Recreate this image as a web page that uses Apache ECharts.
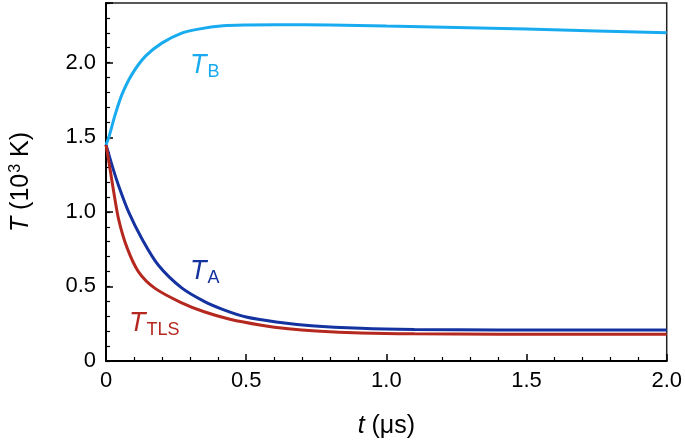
<!DOCTYPE html>
<html>
<head>
<meta charset="utf-8">
<script src="https://cdn.jsdelivr.net/npm/echarts@6/dist/echarts.min.js"></script>
<style>
  html, body { margin: 0; padding: 0; background: #fff; }
  #chart { width: 685px; height: 444px; }
</style>
</head>
<body>
<div id="chart"></div>
<script>
  // time (us) and temperature (10^3 K)
  const timeB = [0, 0.01, 0.033, 0.057, 0.092, 0.14, 0.199, 0.27, 0.33, 0.418, 0.5, 0.607, 0.8, 1.0, 1.25, 1.5, 1.75, 2.0]
  const tempB = [1.45, 1.50, 1.653, 1.787, 1.92, 2.042, 2.131, 2.198, 2.225, 2.247, 2.253, 2.255, 2.252, 2.245, 2.236, 2.225, 2.213, 2.20]

  const timeA = [0, 0.021, 0.045, 0.081, 0.128, 0.187, 0.27, 0.35, 0.418, 0.5, 0.607, 0.732, 0.909, 1.1, 1.4, 1.7, 2.0]
  const tempA = [1.45, 1.315, 1.175, 0.998, 0.82, 0.642, 0.49, 0.40, 0.345, 0.295, 0.262, 0.237, 0.219, 0.211, 0.208, 0.207, 0.207]

  const timeTLS = [0, 0.015, 0.027, 0.045, 0.075, 0.116, 0.175, 0.27, 0.35, 0.442, 0.554, 0.65, 0.75, 0.909, 1.1, 1.4, 1.7, 2.0]
  const tempTLS = [1.45, 1.28, 1.14, 0.95, 0.76, 0.598, 0.487, 0.39, 0.33, 0.28, 0.24, 0.216, 0.201, 0.188, 0.182, 0.18, 0.18, 0.18]

  const xTicks = [0, 0.5, 1.0, 1.5, 2.0]
  const yTicks = [0, 0.5, 1.0, 1.5, 2.0]

  const pairs = (xs, ys) => xs.map((x, i) => [x, ys[i]])
  const fmt = v => (v === 0 ? '0' : v.toFixed(1))
  const font = '"Liberation Sans", Arial, sans-serif'

  const chart = echarts.init(document.getElementById('chart'))

  const lineSeries = (name, xs, ys, color) => ({
    name,
    type: 'line',
    data: pairs(xs, ys),
    smooth: 0.3,
    showSymbol: false,
    lineStyle: { color, width: 3 },
    z: name === 'TB' ? 3 : 2
  })

  const titleStyle = {
    fontFamily: font, fontSize: 25, color: '#000',
    rich: {
      i: { fontStyle: 'italic', fontFamily: font, fontSize: 25, color: '#000' },
      sup: { fontFamily: font, fontSize: 16, color: '#000', padding: [0, 0, 10, 1] }
    }
  }

  const subLabel = (text, sub, left, top, color) => ({
    type: 'text', left, top,
    style: {
      text: '{i|' + text + '}{s|' + sub + '}',
      rich: {
        i: { fontStyle: 'italic', fontFamily: font, fontSize: 27, fill: color },
        s: { fontFamily: font, fontSize: 18, fill: color, padding: [14, 0, 0, 1] }
      }
    }
  })

  chart.setOption({
    animation: false,
    grid: {
      left: 104, right: 18, top: 3, bottom: 81,
      show: true, borderColor: '#222', borderWidth: 1.5, backgroundColor: 'transparent'
    },
    xAxis: {
      type: 'value',
      min: 0, max: 2, interval: 0.5,
      name: '{i|t} (μs)',
      nameLocation: 'middle',
      nameGap: 53,
      nameTextStyle: titleStyle,
      axisLine: { lineStyle: { color: '#000', width: 2 } },
      axisTick: { inside: true, length: 7, lineStyle: { color: '#000', width: 1.5 } },
      minorTick: { show: true, splitNumber: 5, length: 4, lineStyle: { color: '#000', width: 1.2 } },
      splitLine: { show: false },
      axisLabel: {
        formatter: v => (xTicks.indexOf(v) >= 0 ? fmt(v) : ''),
        fontFamily: font, fontSize: 22, color: '#000', margin: 9
      }
    },
    yAxis: [{
      type: 'value',
      min: 0, max: 2.4, interval: 0.5,
      name: '{i|T} (10{sup|3} K)',
      nameLocation: 'middle',
      nameGap: 72,
      nameRotate: 90,
      nameTextStyle: titleStyle,
      axisLine: { show: true, lineStyle: { color: '#000', width: 2 } },
      axisTick: { show: true, inside: true, length: 7, lineStyle: { color: '#000', width: 1.5 } },
      splitLine: { show: false },
      axisLabel: {
        formatter: v => (yTicks.indexOf(Math.round(v * 10) / 10) >= 0 && Math.abs(v * 2 - Math.round(v * 2)) < 1e-6 ? fmt(v) : ''),
        fontFamily: font, fontSize: 22, color: '#000', margin: 10
      }
    }, {
      // minor ticks every 0.1
      type: 'value',
      position: 'left',
      min: 0, max: 2.4, interval: 0.1,
      axisLine: { show: false },
      axisTick: { show: true, inside: true, length: 4, lineStyle: { color: '#000', width: 1.2 } },
      splitLine: { show: false },
      axisLabel: { show: false }
    }],
    series: [
      lineSeries('TB', timeB, tempB, '#19abf0'),
      lineSeries('TA', timeA, tempA, '#1432a0'),
      lineSeries('TTLS', timeTLS, tempTLS, '#b5281f')
    ],
    graphic: [
      subLabel('T', 'B', 190, 52, '#19abf0'),
      subLabel('T', 'A', 190, 258, '#1432a0'),
      subLabel('T', 'TLS', 129, 310, '#b5281f')
    ]
  })
</script>
</body>
</html>
